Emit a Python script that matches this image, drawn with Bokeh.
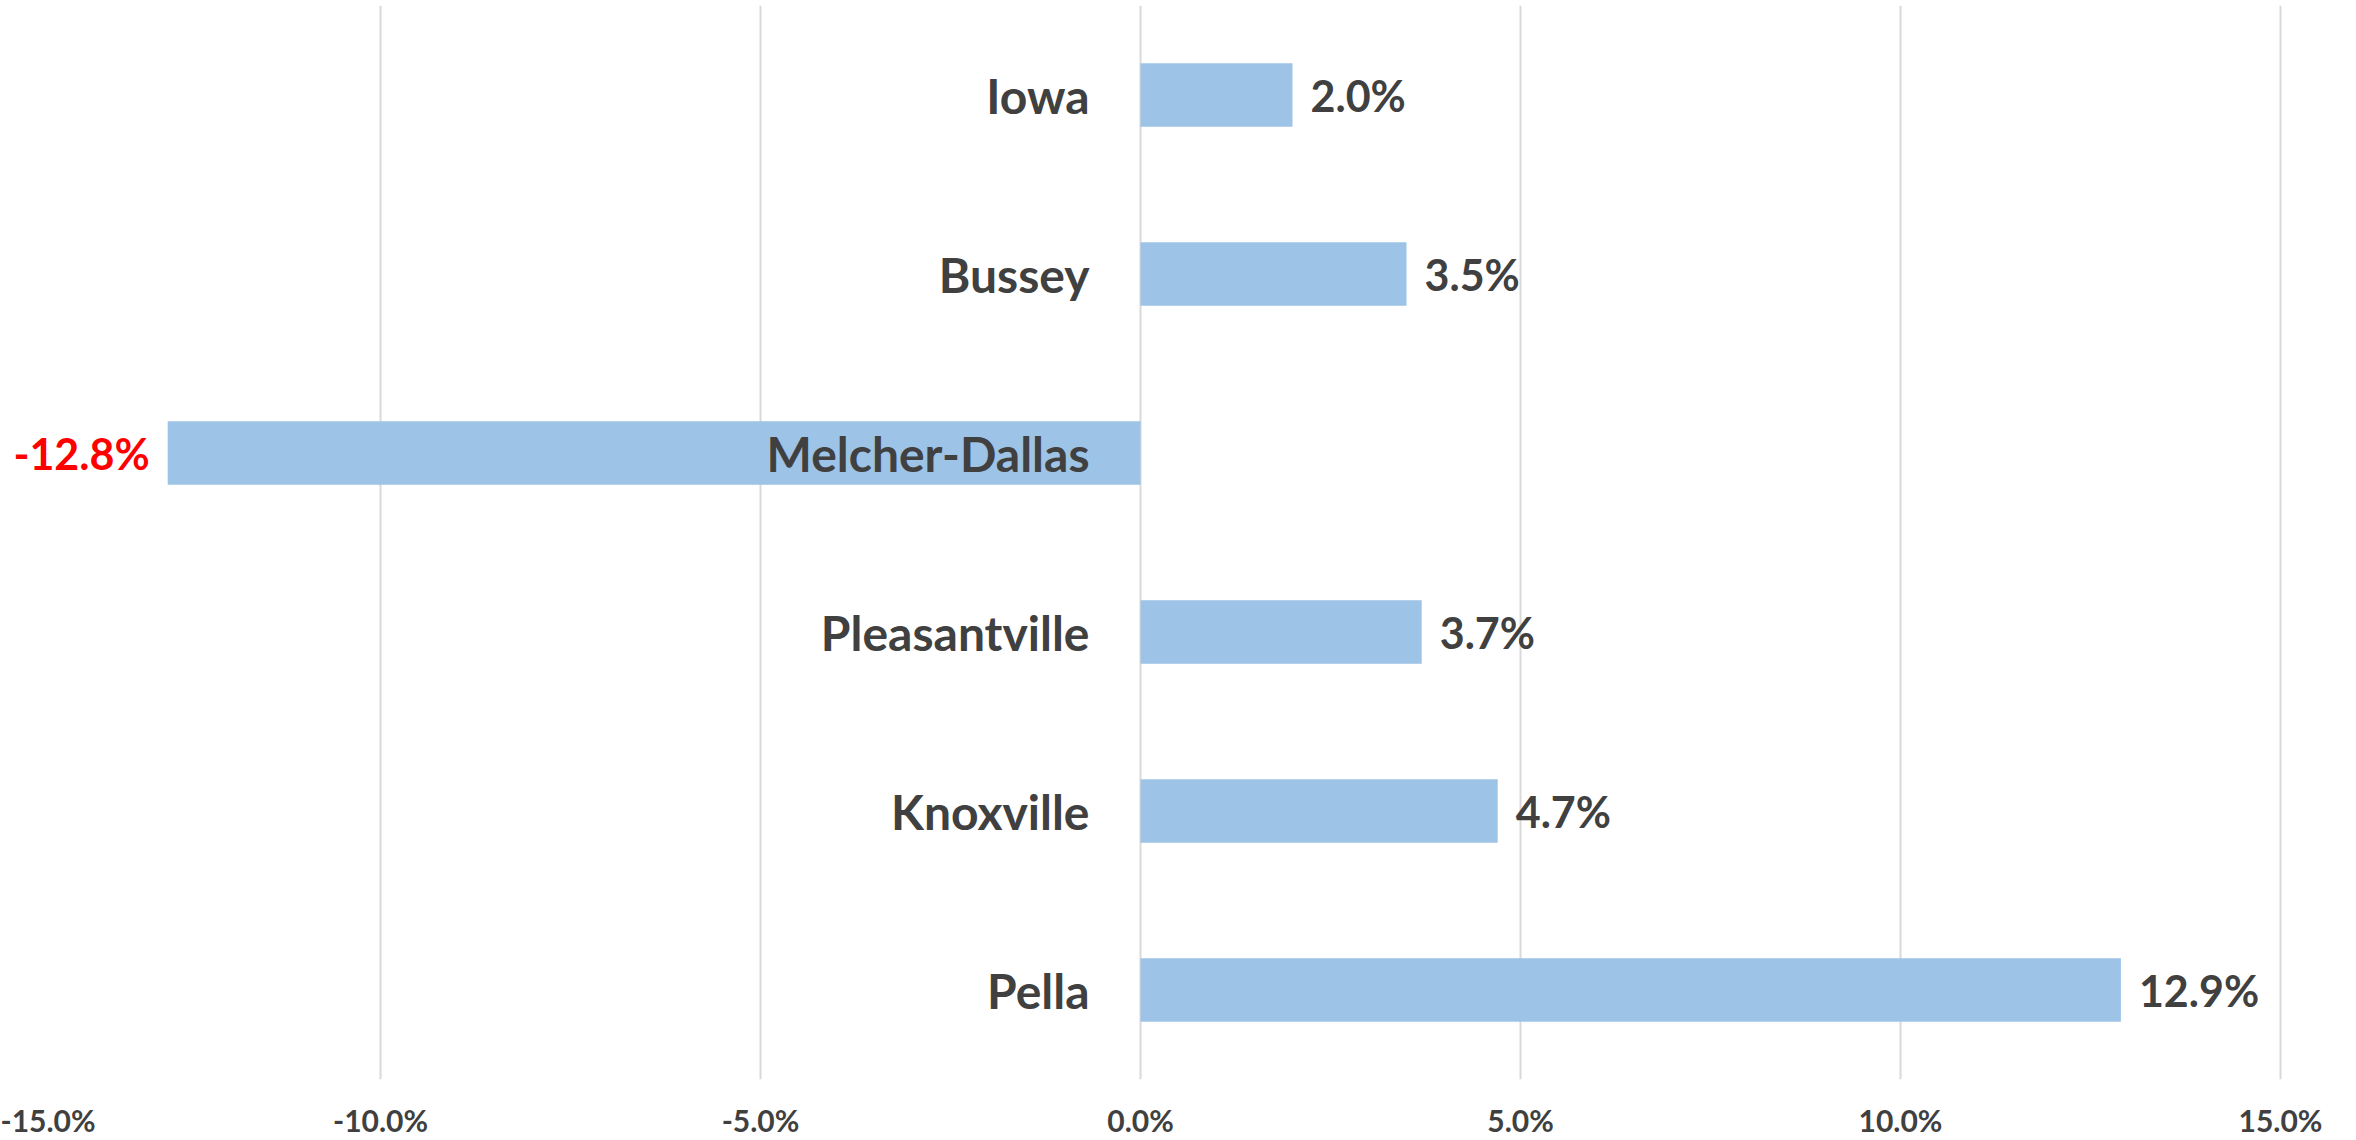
from bokeh.plotting import figure
from bokeh.models import ColumnDataSource, FixedTicker, PrintfTickFormatter, FactorRange, Range1d
from bokeh.core.properties import value
from bokeh.embed import file_html
from bokeh.resources import INLINE

categories = ["Iowa", "Bussey", "Melcher-Dallas", "Pleasantville", "Knoxville", "Pella"]
values = [2.0, 3.5, -12.8, 3.7, 4.7, 12.9]
tick_values = [-15, -10, -5, 0, 5, 10, 15]

FONT = "Lato"
TEXT = "#404040"

labels = [f"{v:.1f}%" for v in values]
colors = ["#FF0000" if v < 0 else TEXT for v in values]
aligns = ["right" if v < 0 else "left" for v in values]
offsets = [-18 if v < 0 else 18 for v in values]

src = ColumnDataSource(dict(cat=categories, val=values, lab=labels, col=colors,
                            align=aligns, off=offsets, zero=[0] * len(values)))

p = figure(width=2356, height=1140, output_backend="svg", toolbar_location=None,
           y_range=FactorRange(factors=list(reversed(categories))),
           x_range=Range1d(tick_values[0], 16), min_border_left=0, min_border_right=0,
           min_border_top=5, min_border_bottom=0)
p.outline_line_color = None
p.background_fill_color = "white"
p.border_fill_color = "white"

p.hbar(y="cat", left=0, right="val", height=0.355, source=src,
       fill_color="#9DC3E6", line_color=None)

p.text(x="val", y="cat", text="lab", source=src, text_color="col",
       text_align="align", x_offset="off", text_baseline="middle",
       text_font=value(FONT), text_font_style="bold", text_font_size="43px")

p.text(x="zero", y="cat", text="cat", source=src, text_color=TEXT,
       text_align="right", x_offset=-51, text_baseline="middle",
       text_font=value(FONT), text_font_style="bold", text_font_size="48px")

p.yaxis.visible = False
p.ygrid.grid_line_color = None
p.xgrid.grid_line_color = "#D9D9D9"
p.xgrid.grid_line_width = 2
p.xaxis.ticker = FixedTicker(ticks=tick_values)
p.xgrid.ticker = FixedTicker(ticks=tick_values)
p.xaxis.formatter = PrintfTickFormatter(format="%.1f%%")
p.xaxis.axis_line_color = None
p.xaxis.major_tick_line_color = None
p.xaxis.minor_tick_line_color = None
p.xaxis.major_tick_out = 0
p.xaxis.major_tick_in = 0
p.xaxis.major_label_text_font = FONT
p.xaxis.major_label_text_font_style = "bold"
p.xaxis.major_label_text_font_size = "30px"
p.xaxis.major_label_text_color = TEXT
p.xaxis.major_label_standoff = 22

open("out.html", "w").write(file_html(p, INLINE))
